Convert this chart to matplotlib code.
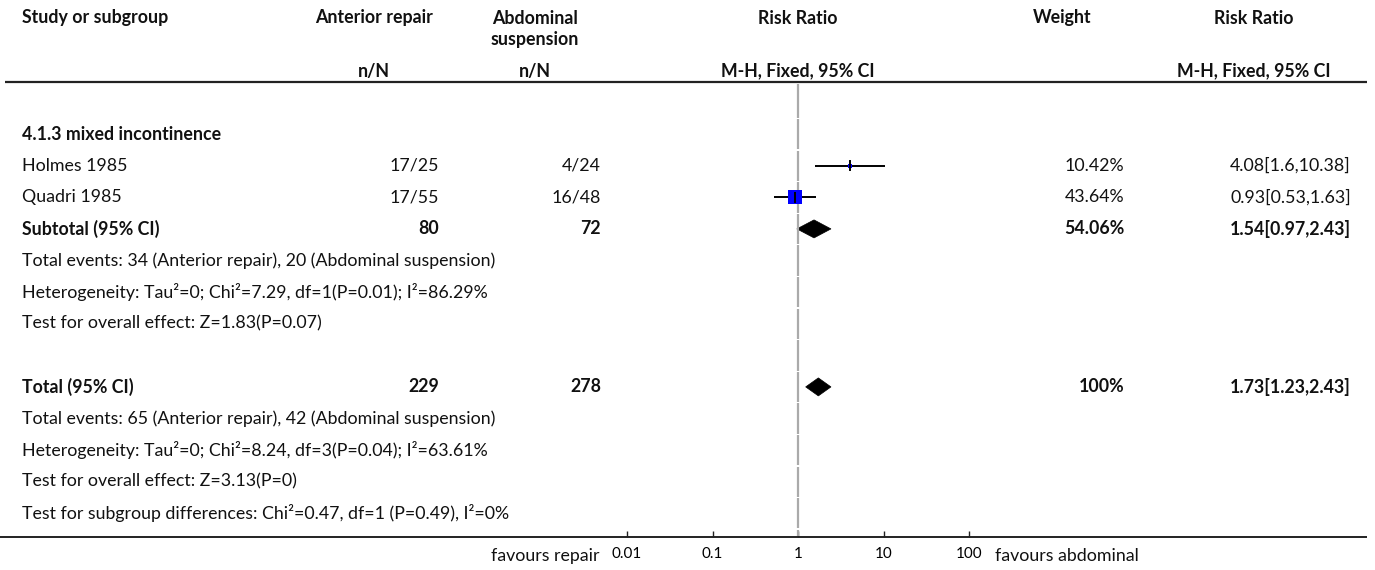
import matplotlib
matplotlib.use("Agg")
import matplotlib.pyplot as plt
from matplotlib.patches import Polygon

plt.rcParams["font.family"] = ["Lato", "DejaVu Sans"]

# --- data -----------------------------------------------------------------
studies = ["Holmes 1985", "Quadri 1985"]
rep_events = [17, 17]
rep_total = [25, 55]
abd_events = [4, 16]
abd_total = [24, 48]
rr = [4.08, 0.93]
rr_lo = [1.6, 0.53]
rr_hi = [10.38, 1.63]
weight = [10.42, 43.64]

subgroup_label = "4.1.3 mixed incontinence"
sub_n = [80, 72]
sub_weight = 54.06
sub_rr = [1.54, 0.97, 2.43]
sub_notes = [
    "Total events: 34 (Anterior repair), 20 (Abdominal suspension)",
    "Heterogeneity: Tau\u00b2=0; Chi\u00b2=7.29, df=1(P=0.01); I\u00b2=86.29%",
    "Test for overall effect: Z=1.83(P=0.07)",
]

tot_n = [229, 278]
tot_weight = 100
tot_rr = [1.73, 1.23, 2.43]
tot_notes = [
    "Total events: 65 (Anterior repair), 42 (Abdominal suspension)",
    "Heterogeneity: Tau\u00b2=0; Chi\u00b2=8.24, df=3(P=0.04); I\u00b2=63.61%",
    "Test for overall effect: Z=3.13(P=0)",
    "Test for subgroup differences: Chi\u00b2=0.47, df=1 (P=0.49), I\u00b2=0%",
]

ticks = [0.01, 0.1, 1, 10, 100]
tick_labels = ["0.01", "0.1", "1", "10", "100"]
left_label, right_label = "favours repair", "favours abdominal"

# --- layout (pixels) --------------------------------------------------------
W, H = 1375, 570
FS, FS_TICK = 12.75, 11
X_STUDY, X_REP, X_ABD, X_W, X_RR = 22, 439, 601, 1124, 1351
HX_REP, HX_ABD, HX_PLOT, HX_W, HX_RR = 374, 535, 798, 1062, 1254
LINE_Y, AXIS_Y = 82, 537
PLOT_X0, PLOT_X1 = 627, 969


def row_y(k):
    return 102.5 + 31.6 * k


fig = plt.figure(figsize=(W / 100, H / 100), dpi=100)
ax = fig.add_axes([0, 0, 1, 1])
ax.set_xlim(0, W)
ax.set_ylim(H, 0)
ax.axis("off")

fp = fig.add_axes([PLOT_X0 / W, (H - AXIS_Y) / H, (PLOT_X1 - PLOT_X0) / W, (AXIS_Y - LINE_Y) / H])
fp.set_xscale("log")
fp.set_xlim(ticks[0], ticks[-1])
fp.set_ylim(AXIS_Y, LINE_Y)
fp.patch.set_alpha(0)
for s in fp.spines.values():
    s.set_visible(False)
fp.set_yticks([])
fp.set_xticks(ticks)
fp.set_xticklabels(tick_labels)
fp.minorticks_off()
fp.tick_params(axis="x", direction="in", length=4, width=1, pad=7, labelsize=FS_TICK, color="#222222")


def txt(x, y, s, ha="left", bold=False, size=FS, **kw):
    ax.text(x, y, s, ha=ha, va="center", fontsize=size,
            fontweight="bold" if bold else "normal", color="#111111", **kw)


# header
txt(X_STUDY, 18, "Study or subgroup", bold=True)
txt(HX_REP, 18, "Anterior repair", ha="center", bold=True)
txt(HX_ABD, 18, "Abdominal", ha="center", bold=True)
txt(HX_ABD, 40, "suspension", ha="center", bold=True)
txt(HX_PLOT, 18, "Risk Ratio", ha="center", bold=True)
txt(HX_W, 18, "Weight", ha="center", bold=True)
txt(HX_RR, 18, "Risk Ratio", ha="center", bold=True)
txt(HX_REP, 71, "n/N", ha="center", bold=True)
txt(HX_ABD, 71, "n/N", ha="center", bold=True)
txt(HX_PLOT, 71, "M-H, Fixed, 95% CI", ha="center", bold=True)
txt(HX_RR, 71, "M-H, Fixed, 95% CI", ha="center", bold=True)
ax.plot([5, 1367], [LINE_Y, LINE_Y], color="#222222", lw=1.6, solid_capstyle="butt")

# line of no effect, drawn one row slot at a time
edges = [LINE_Y + 1] + [row_y(k) + 15.8 for k in range(14)] + [AXIS_Y]
for a, b in zip(edges[:-1], edges[1:]):
    fp.plot([1, 1], [a + 0.6, b - 0.6], color="#aaaaaa", lw=1.6, solid_capstyle="butt")

txt(X_STUDY, row_y(1), subgroup_label, bold=True)

for i, name in enumerate(studies):
    y = row_y(2 + i)
    txt(X_STUDY, y, name)
    txt(X_REP, y, f"{rep_events[i]}/{rep_total[i]}", ha="right")
    txt(X_ABD, y, f"{abd_events[i]}/{abd_total[i]}", ha="right")
    txt(X_W, y, f"{weight[i]:g}%", ha="right")
    txt(X_RR, y, f"{rr[i]:g}[{rr_lo[i]:g},{rr_hi[i]:g}]", ha="right")
    fp.plot([rr_lo[i], rr_hi[i]], [y, y], color="black", lw=1.4, solid_capstyle="butt")
    side = 0.314 * weight[i]
    fp.plot(rr[i], y, marker="s", ms=side * 0.72, color="#0000ff", mew=0)
    fp.plot([rr[i], rr[i]], [y - 4.5, y + 4.5], color="black", lw=1.4)


def diamond(est, lo, hi, y, half=9):
    fp.add_patch(Polygon([(lo, y), (est, y - half), (hi, y), (est, y + half)],
                         closed=True, facecolor="black", edgecolor="black", lw=0.5))


def pooled(k, label, n, w, r, notes):
    y = row_y(k)
    txt(X_STUDY, y, label, bold=True)
    txt(X_REP, y, str(n[0]), ha="right", bold=True)
    txt(X_ABD, y, str(n[1]), ha="right", bold=True)
    txt(X_W, y, f"{w:g}%", ha="right", bold=True)
    txt(X_RR, y, f"{r[0]:g}[{r[1]:g},{r[2]:g}]", ha="right", bold=True)
    diamond(r[0], r[1], r[2], y)
    for j, note in enumerate(notes):
        txt(X_STUDY, row_y(k + 1 + j), note)


pooled(4, "Subtotal (95% CI)", sub_n, sub_weight, sub_rr, sub_notes)
pooled(9, "Total (95% CI)", tot_n, tot_weight, tot_rr, tot_notes)

# bottom axis rule and direction labels
ax.plot([0, 1367], [AXIS_Y, AXIS_Y], color="#222222", lw=1.4, solid_capstyle="butt")
txt(600, 556, left_label, ha="right")
txt(995, 556, right_label)

fig.savefig("out.png", dpi=100)
